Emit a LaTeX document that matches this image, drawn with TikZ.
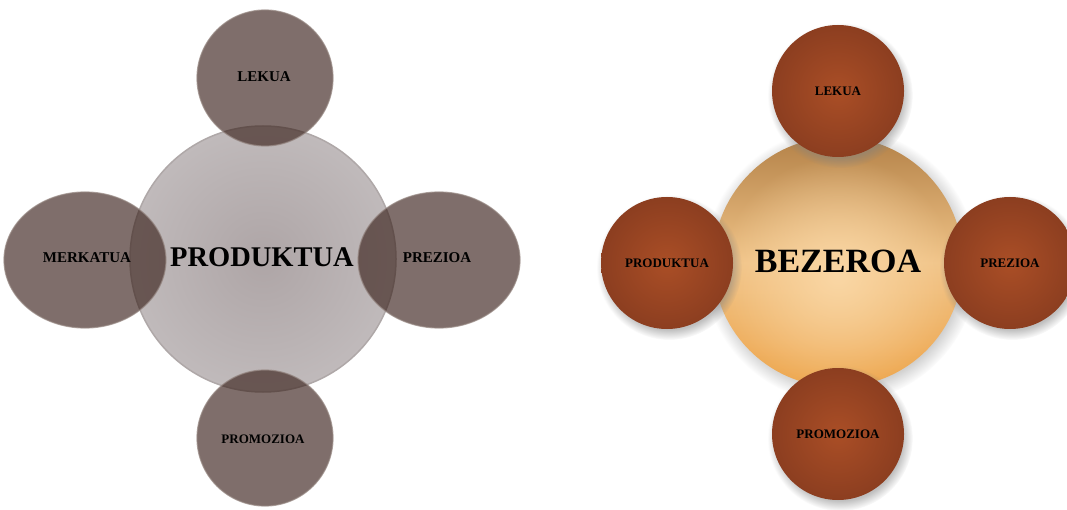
\documentclass[tikz,border=0pt]{standalone}
\usepackage{fontspec}
\setmainfont{Liberation Serif}
\usetikzlibrary{shapes.geometric,shadows,fadings}
\definecolor{lsmall}{RGB}{58,33,27}
\definecolor{lrim}{RGB}{150,135,130}
\definecolor{lbigin}{RGB}{174,165,166}
\definecolor{lbigout}{RGB}{192,186,187}
\definecolor{lbigrim}{RGB}{175,168,168}
\definecolor{rsmallin}{RGB}{170,78,38}
\definecolor{rsmallout}{RGB}{140,62,32}
\definecolor{rbigtop}{RGB}{180,130,72}
\definecolor{rbigmid}{RGB}{240,195,135}
\definecolor{rbigbot}{RGB}{238,165,75}
\definecolor{rpeach}{RGB}{250,215,165}
\tikzfading[name=radfade, inner color=transparent!0, outer color=transparent!100]
\tikzset{
  lbig/.style={circle, minimum size=266pt, inner sep=0pt, shading=radial, inner color=lbigin, outer color=lbigout, draw=lbigrim, line width=1.5pt},
  lcirc/.style={circle, minimum size=136pt, inner sep=0pt, fill=lsmall, fill opacity=0.65, draw=lrim, draw opacity=0.7, line width=1.2pt},
  lell/.style={ellipse, minimum width=162pt, minimum height=136pt, inner sep=0pt, fill=lsmall, fill opacity=0.65, draw=lrim, draw opacity=0.7, line width=1.2pt},
  ltext/.style={font=\bfseries\fontsize{15}{15}\selectfont},
  rbig/.style={circle, minimum size=250pt, inner sep=0pt, top color=rbigtop, bottom color=rbigbot, middle color=rbigmid, circular drop shadow={shadow xshift=2pt, shadow yshift=-3pt, opacity=0.45}},
  rcirc/.style={circle, minimum size=132pt, inner sep=0pt, shading=radial, inner color=rsmallin, outer color=rsmallout, circular drop shadow={shadow xshift=2pt, shadow yshift=-4pt, opacity=0.5}, font=\bfseries\fontsize{13}{13}\selectfont},
}
\begin{document}
\begin{tikzpicture}[x=1pt,y=-1pt]
\useasboundingbox (0,0) rectangle (1067,510);
% left diagram
\node[lbig] (prod) at (263,259) {};
\node[lcirc] (lek) at (265,78) {};
\node[lell] (merk) at (85,260) {};
\node[lell] (prez) at (439,260) {};
\node[lcirc] (promo) at (265,438) {};
\node[font=\bfseries\fontsize{28.5}{28.5}\selectfont] (prodt) at (262,257) {PRODUKTUA};
\node[ltext] (lekt) at (264,77) {LEKUA};
\node[ltext] (merkt) at (87,258) {MERKATUA};
\node[ltext] (prezt) at (437,258) {PREZIOA};
\node[font=\bfseries\fontsize{13}{13}\selectfont] (promot) at (263,439) {PROMOZIOA};
% right diagram
\node[rbig] (bez) at (838,262) {};
\fill[rpeach, path fading=radfade] (838,275) circle (118pt);
\node[font=\bfseries\fontsize{34}{34}\selectfont] (bezt) at (838,261) {BEZEROA};
\node[rcirc] (rlek) at (838,91) {LEKUA};
\node[rcirc] (rprod) at (667,263) {PRODUKTUA};
\node[rcirc] (rprez) at (1010,263) {PREZIOA};
\node[rcirc] (rpromo) at (838,434) {PROMOZIOA};
\end{tikzpicture}
\end{document}
